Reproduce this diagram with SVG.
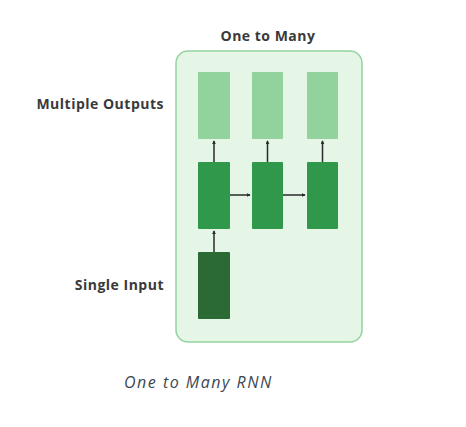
<svg xmlns="http://www.w3.org/2000/svg" width="466" height="427" viewBox="0 0 466 427">
<style>
.lbl{font-family:"Open Sans","DejaVu Sans",sans-serif;font-weight:bold;font-size:14px;letter-spacing:0.5px;fill:#3a3a3a}
.out{fill:#92d29c}
.hid{fill:#2f984a}
.inp{fill:#2b6a34}
.cap{font-family:"Open Sans","DejaVu Sans",sans-serif;font-style:italic;font-size:16px;letter-spacing:1.5px;fill:#3c4752}
.ar{stroke:#2a2a2a;stroke-width:1.5;fill:none}
</style>
<defs>
<marker id="ah" viewBox="0 0 6 6" refX="5" refY="3" markerWidth="4" markerHeight="4" orient="auto" markerUnits="userSpaceOnUse"><path d="M0,0 L6,3 L0,6 z" fill="#2a2a2a"/></marker>
</defs>
<rect width="466" height="427" fill="#ffffff"/>
<g id="frame">
<rect x="176" y="51" width="186" height="291" rx="12" fill="#e5f6e6" stroke="#94d39f" stroke-width="1.5"/>
<text class="lbl" x="268" y="41" text-anchor="middle">One to Many</text>
</g>
<g id="label-outputs"><text class="lbl" x="164" y="109" text-anchor="end">Multiple Outputs</text></g>
<g id="label-input"><text class="lbl" x="164" y="290" text-anchor="end">Single Input</text></g>
<g id="out1"><rect class="out" x="198" y="72" width="32" height="67" rx="1"/></g>
<g id="out2"><rect class="out" x="252" y="72" width="31" height="67" rx="1"/></g>
<g id="out3"><rect class="out" x="307" y="72" width="31" height="67" rx="1"/></g>
<g id="hid1"><rect class="hid" x="198" y="162" width="32" height="67" rx="1"/></g>
<g id="hid2"><rect class="hid" x="252" y="162" width="31" height="67" rx="1"/></g>
<g id="hid3"><rect class="hid" x="307" y="162" width="31" height="67" rx="1"/></g>
<g id="input"><rect class="inp" x="198" y="252" width="32" height="67" rx="1"/></g>
<g id="connectors">
<line class="ar" x1="214" y1="252" x2="214" y2="231" marker-end="url(#ah)"/>
<line class="ar" x1="214" y1="162" x2="214" y2="141" marker-end="url(#ah)"/>
<line class="ar" x1="267.5" y1="162" x2="267.5" y2="141" marker-end="url(#ah)"/>
<line class="ar" x1="322.5" y1="162" x2="322.5" y2="141" marker-end="url(#ah)"/>
<line class="ar" x1="230" y1="195" x2="250" y2="195" marker-end="url(#ah)"/>
<line class="ar" x1="283" y1="195" x2="305" y2="195" marker-end="url(#ah)"/>
</g>
<text class="cap" x="124" y="388">One to Many RNN</text>
</svg>
